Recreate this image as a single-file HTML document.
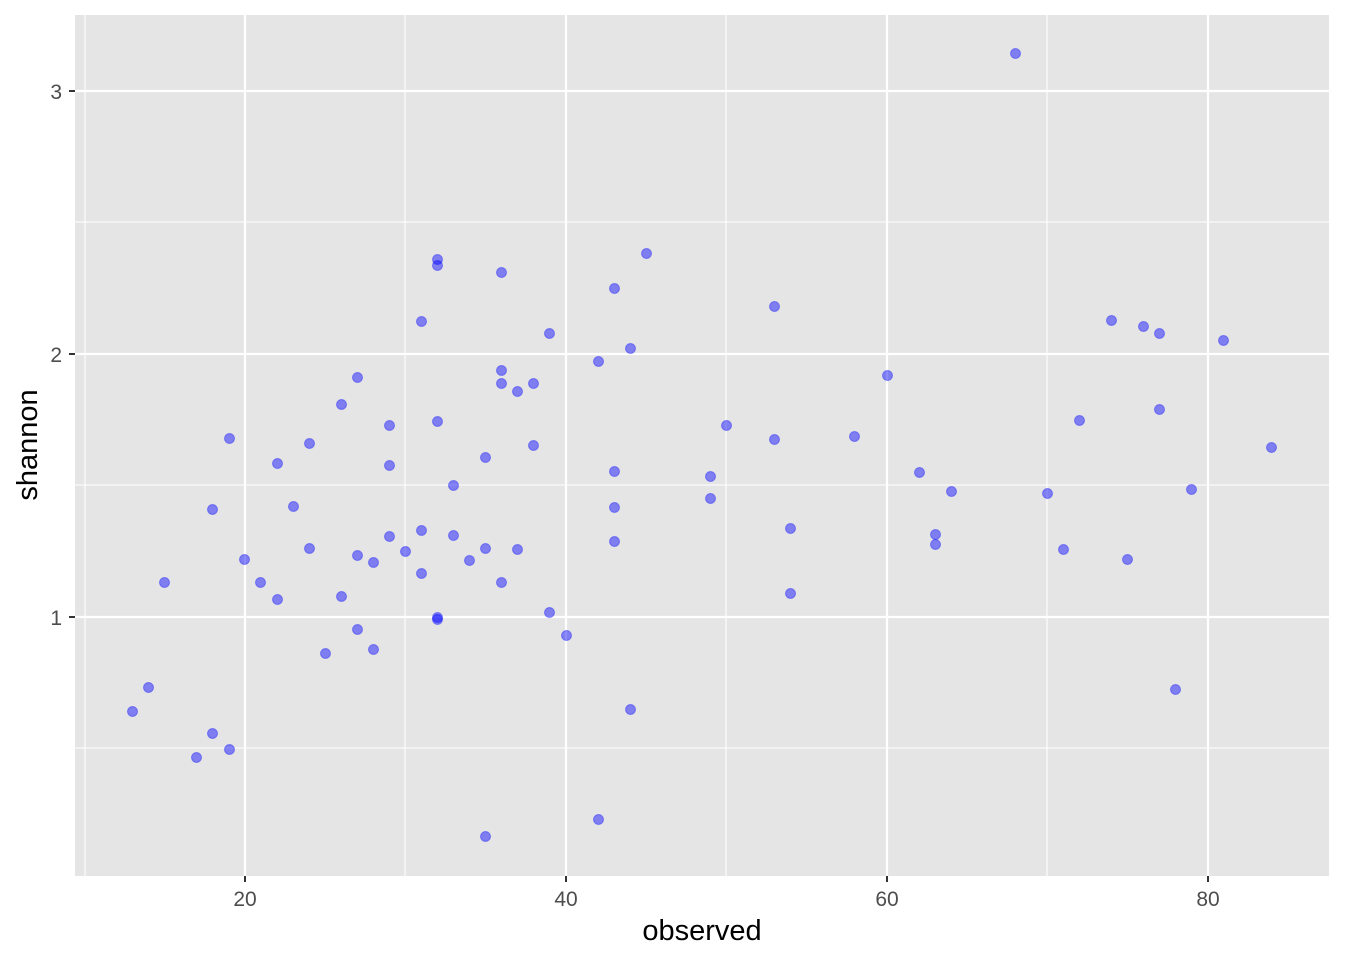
<!DOCTYPE html>
<html><head><style>body{margin:0;background:#fff}svg{display:block}</style></head><body>
<svg width="1352" height="980" xmlns="http://www.w3.org/2000/svg" font-family="Liberation Sans, Arial, sans-serif">
<rect x="75" y="15" width="1254" height="861" fill="#e5e5e5"/>
<g stroke="#fff" stroke-width="1.1">
<line x1="75" x2="1329" y1="222" y2="222"/><line x1="75" x2="1329" y1="485" y2="485"/><line x1="75" x2="1329" y1="748" y2="748"/>
<line y1="15" y2="876" x1="85" x2="85"/><line y1="15" y2="876" x1="405" x2="405"/><line y1="15" y2="876" x1="726" x2="726"/><line y1="15" y2="876" x1="1047" x2="1047"/>
</g>
<g stroke="#fff" stroke-width="2.2">
<line x1="75" x2="1329" y1="91" y2="91"/><line x1="75" x2="1329" y1="354" y2="354"/><line x1="75" x2="1329" y1="617" y2="617"/>
<line y1="15" y2="876" x1="245" x2="245"/><line y1="15" y2="876" x1="566" x2="566"/><line y1="15" y2="876" x1="887" x2="887"/><line y1="15" y2="876" x1="1208" x2="1208"/>
</g>
<g fill="rgba(0,0,255,0.45)" stroke="rgba(0,0,255,0.35)" stroke-width="1" transform="translate(0.5,0.5)">
<circle cx="1015" cy="53" r="5"/><circle cx="646" cy="253" r="5"/><circle cx="437" cy="259" r="5"/><circle cx="437" cy="265" r="5"/><circle cx="501" cy="272" r="5"/><circle cx="614" cy="288" r="5"/><circle cx="774" cy="306" r="5"/><circle cx="421" cy="321" r="5"/><circle cx="1111" cy="320" r="5"/><circle cx="1143" cy="326" r="5"/><circle cx="1159" cy="333" r="5"/><circle cx="549" cy="333" r="5"/><circle cx="1223" cy="340" r="5"/><circle cx="630" cy="348" r="5"/><circle cx="598" cy="361" r="5"/><circle cx="357" cy="377" r="5"/><circle cx="501" cy="370" r="5"/><circle cx="887" cy="375" r="5"/><circle cx="501" cy="383" r="5"/><circle cx="533" cy="383" r="5"/><circle cx="517" cy="391" r="5"/><circle cx="341" cy="404" r="5"/><circle cx="1159" cy="409" r="5"/><circle cx="437" cy="421" r="5"/><circle cx="389" cy="425" r="5"/><circle cx="726" cy="425" r="5"/><circle cx="1079" cy="420" r="5"/><circle cx="854" cy="436" r="5"/><circle cx="774" cy="439" r="5"/><circle cx="229" cy="438" r="5"/><circle cx="309" cy="443" r="5"/><circle cx="533" cy="445" r="5"/><circle cx="1271" cy="447" r="5"/><circle cx="485" cy="457" r="5"/><circle cx="277" cy="463" r="5"/><circle cx="389" cy="465" r="5"/><circle cx="614" cy="471" r="5"/><circle cx="919" cy="472" r="5"/><circle cx="710" cy="476" r="5"/><circle cx="453" cy="485" r="5"/><circle cx="1191" cy="489" r="5"/><circle cx="951" cy="491" r="5"/><circle cx="1047" cy="493" r="5"/><circle cx="710" cy="498" r="5"/><circle cx="212" cy="509" r="5"/><circle cx="293" cy="506" r="5"/><circle cx="614" cy="507" r="5"/><circle cx="790" cy="528" r="5"/><circle cx="421" cy="530" r="5"/><circle cx="389" cy="536" r="5"/><circle cx="453" cy="535" r="5"/><circle cx="935" cy="534" r="5"/><circle cx="614" cy="541" r="5"/><circle cx="935" cy="544" r="5"/><circle cx="309" cy="548" r="5"/><circle cx="485" cy="548" r="5"/><circle cx="517" cy="549" r="5"/><circle cx="1063" cy="549" r="5"/><circle cx="405" cy="551" r="5"/><circle cx="357" cy="555" r="5"/><circle cx="244" cy="559" r="5"/><circle cx="469" cy="560" r="5"/><circle cx="373" cy="562" r="5"/><circle cx="1127" cy="559" r="5"/><circle cx="421" cy="573" r="5"/><circle cx="164" cy="582" r="5"/><circle cx="260" cy="582" r="5"/><circle cx="501" cy="582" r="5"/><circle cx="790" cy="593" r="5"/><circle cx="341" cy="596" r="5"/><circle cx="277" cy="599" r="5"/><circle cx="549" cy="612" r="5"/><circle cx="437" cy="617" r="5"/><circle cx="437" cy="619" r="5"/><circle cx="357" cy="629" r="5"/><circle cx="566" cy="635" r="5"/><circle cx="373" cy="649" r="5"/><circle cx="325" cy="653" r="5"/><circle cx="148" cy="687" r="5"/><circle cx="1175" cy="689" r="5"/><circle cx="132" cy="711" r="5"/><circle cx="630" cy="709" r="5"/><circle cx="212" cy="733" r="5"/><circle cx="229" cy="749" r="5"/><circle cx="196" cy="757" r="5"/><circle cx="598" cy="819" r="5"/><circle cx="485" cy="836" r="5"/>
</g>
<g stroke="#333" stroke-width="2">
<line x1="69" x2="75" y1="91" y2="91"/><line x1="69" x2="75" y1="354" y2="354"/><line x1="69" x2="75" y1="617" y2="617"/>
<line y1="876" y2="882" x1="245" x2="245"/><line y1="876" y2="882" x1="566" x2="566"/><line y1="876" y2="882" x1="887" x2="887"/><line y1="876" y2="882" x1="1208" x2="1208"/>
</g>
<g fill="#4d4d4d" font-size="21">
<text x="62" y="99" text-anchor="end">3</text><text x="62" y="362" text-anchor="end">2</text><text x="62" y="625" text-anchor="end">1</text>
<text x="245" y="906" text-anchor="middle">20</text><text x="566" y="906" text-anchor="middle">40</text><text x="887" y="906" text-anchor="middle">60</text><text x="1208" y="906" text-anchor="middle">80</text>
</g>
<text x="702" y="940" text-anchor="middle" font-size="29" fill="#000">observed</text>
<text transform="translate(37,445) rotate(-90)" text-anchor="middle" font-size="29" fill="#000">shannon</text>
</svg>
</body></html>
